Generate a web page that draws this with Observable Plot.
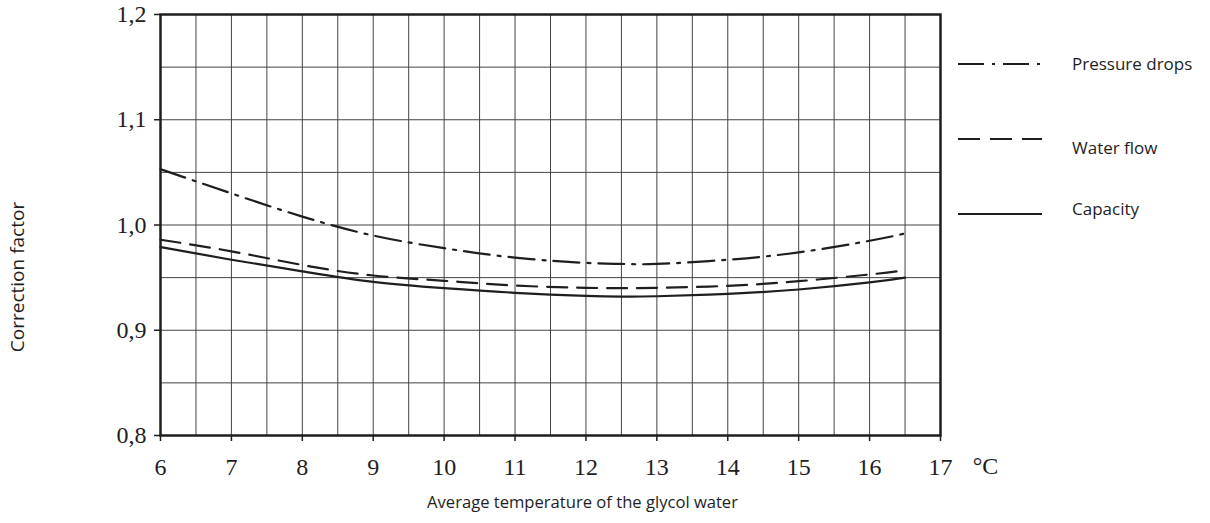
<!DOCTYPE html>
<html><head><meta charset="utf-8">
<script src="https://cdn.jsdelivr.net/npm/d3@7"></script>
<script src="https://cdn.jsdelivr.net/npm/@observablehq/plot@0.6"></script>
<style>
html,body{margin:0;padding:0;background:#fff;}
#wrap{position:relative;width:1210px;height:523px;}
#legend{position:absolute;left:0;top:0;pointer-events:none;}
</style></head><body><div id="wrap"></div>
<script>
const temperatures = [6, 7, 8, 9, 10, 11, 12, 12.5, 13, 14, 15, 16, 16.5];
const pressureDrops = [1.053, 1.030, 1.008, 0.990, 0.978, 0.969, 0.964, 0.963, 0.963, 0.967, 0.974, 0.985, 0.992];
const waterFlow = [0.986, 0.975, 0.962, 0.952, 0.947, 0.9425, 0.9403, 0.940, 0.9403, 0.9422, 0.9466, 0.953, 0.957];
const capacity = [0.979, 0.967, 0.956, 0.946, 0.940, 0.9356, 0.9327, 0.932, 0.9323, 0.9346, 0.9387, 0.9454, 0.950];
const seriesNames = ["Pressure drops", "Water flow", "Capacity"];
const xTicks = [6, 7, 8, 9, 10, 11, 12, 13, 14, 15, 16, 17];
const yTicks = [0.8, 0.9, 1.0, 1.1, 1.2];
const xUnit = "°C";
const xTitle = "Average temperature of the glycol water";
const yTitle = "Correction factor";

const seriesValues = [pressureDrops, waterFlow, capacity];
const dashes = ["26,8,3,8", "20,10", null];
const rows = [];
seriesValues.forEach((vals, i) => vals.forEach((v, j) => rows.push({series: seriesNames[i], t: temperatures[j], v})));

// grid positions: every 0.5 °C and every 0.05
const xGrid = d3.range(xTicks[0] * 2 + 1, xTicks[xTicks.length - 1] * 2).map(d => d / 2);
const yGrid = d3.range(yTicks[0] * 20 + 1, yTicks[yTicks.length - 1] * 20 - 0.5).map(d => Math.round(d) / 20);

const sans = "'Open Sans', sans-serif";
const ink = "#1e1e1e";

const lineMarks = seriesNames.map((name, i) => Plot.line(rows.filter(r => r.series === name), {
  x: "t", y: "v", curve: "natural", stroke: ink, strokeWidth: 2.2,
  strokeDasharray: dashes[i] || undefined
}));

const chart = Plot.plot({
  width: 1210, height: 523,
  marginLeft: 160, marginRight: 270, marginTop: 14, marginBottom: 88,
  x: {domain: [xTicks[0], xTicks[xTicks.length - 1]]},
  y: {domain: [yTicks[0], yTicks[yTicks.length - 1]]},
  style: {fontFamily: "'Liberation Serif', serif", color: ink, background: "#fff"},
  marks: [
    Plot.ruleX(xGrid, {stroke: "#444", strokeWidth: 1}),
    Plot.ruleY(yGrid, {stroke: "#444", strokeWidth: 1}),
    ...lineMarks,
    Plot.frame({stroke: ink, strokeWidth: 2.5}),
    Plot.axisX(xTicks, {tickSize: 6, tickPadding: 16, fontSize: 24, tickFormat: d => String(d), label: null, stroke: ink, strokeWidth: 1.5, fill: ink}),
    Plot.axisY(yTicks, {tickSize: 6, tickPadding: 8, fontSize: 24, tickFormat: d => d.toFixed(1).replace(".", ","), label: null, stroke: ink, strokeWidth: 1.5, fill: ink}),
    Plot.text([{t: xTicks[xTicks.length - 1], v: yTicks[0], s: xUnit}], {x: "t", y: "v", text: "s", dx: 45, dy: 31, fontSize: 24, fill: ink, textAnchor: "middle"}),
    Plot.text([xTitle], {frameAnchor: "bottom", dx: 32, dy: 72, fontSize: 16.6, fontFamily: sans, fill: ink})
  ]
});

const wrap = document.getElementById("wrap");
wrap.appendChild(chart);

// legend and y title overlay
const leg = d3.select(wrap).append("svg").attr("id", "legend").attr("width", 1210).attr("height", 523);
const legendRows = [{line: 64, text: 64}, {line: 139, text: 148}, {line: 214, text: 209}];
seriesNames.forEach((name, i) => {
  const l = leg.append("line").attr("x1", 958).attr("x2", 1042)
    .attr("y1", legendRows[i].line).attr("y2", legendRows[i].line)
    .attr("stroke", ink).attr("stroke-width", 2.2);
  if (dashes[i]) l.attr("stroke-dasharray", i === 1 ? "22,10" : dashes[i]);
  leg.append("text").attr("x", 1072).attr("y", legendRows[i].text).attr("dy", "0.35em")
    .attr("font-family", sans).attr("font-size", 17).attr("fill", ink).text(name);
});
leg.append("text").attr("transform", "translate(17,277) rotate(-90)")
  .attr("text-anchor", "middle").attr("dy", "0.35em")
  .attr("font-family", sans).attr("font-size", 19).attr("fill", ink).text(yTitle);
</script></body></html>
